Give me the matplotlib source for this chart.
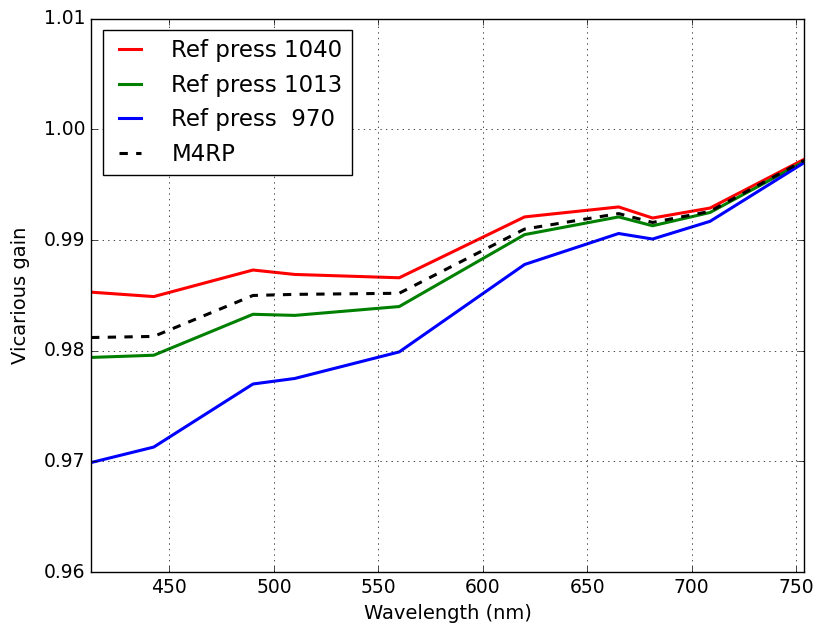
import matplotlib
matplotlib.use('Agg')
import matplotlib.pyplot as plt

wavelengths = [412.5, 442.5, 490, 510, 560, 620, 665, 681.25, 708.75, 753.75]
gain_1040 = [0.9853, 0.9849, 0.9873, 0.9869, 0.9866, 0.9921, 0.9930, 0.9920, 0.9929, 0.9973]
gain_1013 = [0.9794, 0.9796, 0.9833, 0.9832, 0.9840, 0.9905, 0.9921, 0.9913, 0.9925, 0.9971]
gain_970 = [0.9699, 0.9713, 0.9770, 0.9775, 0.9799, 0.9878, 0.9906, 0.9901, 0.9917, 0.9970]
gain_m4rp = [0.9812, 0.9813, 0.9850, 0.9851, 0.9852, 0.9910, 0.9924, 0.9916, 0.9926, 0.9972]

plt.style.use('classic')
fig = plt.figure(figsize=(8.13, 6.28), dpi=100, facecolor='white')
ax = fig.add_axes([0.112, 0.089, 0.877, 0.881])

ax.plot(wavelengths, gain_1040, color='r', lw=2.2, label='Ref press 1040')
ax.plot(wavelengths, gain_1013, color='g', lw=2.2, label='Ref press 1013')
ax.plot(wavelengths, gain_970, color='b', lw=2.2, label='Ref press  970')
ax.plot(wavelengths, gain_m4rp, 'k--', lw=2.2, label='M4RP')

ax.set_xlim(wavelengths[0], wavelengths[-1])
ax.set_ylim(0.96, 1.01)
ax.set_yticks([0.96, 0.97, 0.98, 0.99, 1.00, 1.01])
ax.set_yticklabels(['0.96', '0.97', '0.98', '0.99', '1.00', '1.01'])
ax.tick_params(labelsize=13.5)
ax.grid(True)
ax.set_xlabel('Wavelength (nm)', fontsize=14)
ax.set_ylabel('Vicarious gain', fontsize=14, labelpad=10)
ax.legend(loc='upper left', fontsize=16.5, handlelength=1.6, handletextpad=1.0)

fig.savefig('out.png', dpi=100, facecolor='white')
